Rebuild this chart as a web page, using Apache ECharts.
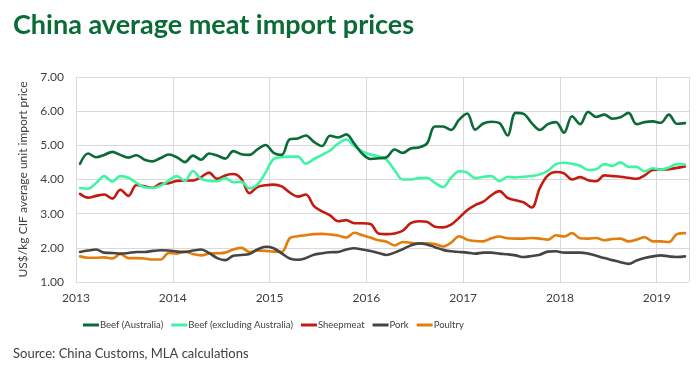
<!DOCTYPE html>
<html><head><meta charset="utf-8">
<script src="https://cdn.jsdelivr.net/npm/echarts@6/dist/echarts.min.js"></script>
<style>html,body{margin:0;padding:0;background:#fff}#c{width:700px;height:373px}</style>
</head><body><div id="c"></div>
<script>
var startYear = 2013;
var yearTicks = ['2013','2014','2015','2016','2017','2018','2019'];
var seriesNames = ['Beef (Australia)','Beef (excluding Australia)','Sheepmeat','Pork','Poultry'];
// monthly values, Jan 2013 .. Apr 2019
var beefAustralia = [4.46,4.76,4.65,4.72,4.81,4.72,4.64,4.71,4.58,4.53,4.63,4.73,
4.65,4.51,4.70,4.58,4.76,4.70,4.61,4.83,4.74,4.72,4.88,5.01,
4.78,4.72,5.18,5.20,5.29,5.10,4.98,5.28,5.23,5.32,5.05,4.75,
4.60,4.62,4.65,4.88,4.78,4.91,4.94,5.05,5.55,5.55,5.45,5.75,
5.93,5.46,5.64,5.69,5.65,5.29,5.95,5.92,5.65,5.45,5.62,5.68,
5.37,5.85,5.62,5.98,5.83,5.90,5.78,5.82,5.95,5.62,5.68,5.70,
5.66,5.90,5.63,5.65];
var beefExAustralia = [3.75,3.73,3.90,4.10,3.94,4.10,4.05,3.90,3.77,3.75,3.82,3.97,
4.10,3.96,4.25,4.02,3.96,3.95,4.04,3.92,3.93,3.74,3.85,4.20,
4.60,4.65,4.67,4.67,4.46,4.60,4.72,4.85,5.05,5.17,4.98,4.82,
4.73,4.68,4.58,4.27,4.00,4.00,4.04,4.05,3.90,3.78,4.05,4.24,
4.20,4.04,4.08,4.10,3.95,4.08,4.06,4.08,4.10,4.15,4.25,4.45,
4.49,4.46,4.40,4.28,4.30,4.45,4.40,4.50,4.37,4.37,4.24,4.33,
4.29,4.35,4.45,4.44];
var sheepmeat = [3.58,3.47,3.52,3.56,3.44,3.70,3.52,3.84,3.80,3.76,3.88,3.89,
3.96,3.97,3.97,4.07,4.20,4.02,4.12,4.16,4.02,3.60,3.78,3.83,
3.85,3.80,3.62,3.50,3.56,3.22,3.07,2.95,2.78,2.81,2.72,2.72,
2.70,2.42,2.40,2.42,2.50,2.72,2.78,2.76,2.62,2.60,2.68,2.88,
3.10,3.25,3.35,3.54,3.66,3.46,3.39,3.33,3.18,3.75,4.12,4.22,
4.18,4.00,4.07,3.98,3.95,4.12,4.10,4.08,4.05,4.02,4.12,4.28,
4.29,4.30,4.34,4.38];
var pork = [1.88,1.92,1.95,1.86,1.85,1.83,1.85,1.88,1.88,1.91,1.93,1.92,
1.89,1.88,1.92,1.95,1.85,1.70,1.64,1.77,1.79,1.82,1.95,2.03,
1.99,1.84,1.69,1.65,1.70,1.80,1.84,1.87,1.88,1.95,1.99,1.95,
1.91,1.85,1.79,1.86,1.96,2.07,2.13,2.10,2.02,1.94,1.90,1.88,
1.86,1.83,1.86,1.86,1.83,1.81,1.78,1.73,1.76,1.80,1.89,1.90,
1.86,1.86,1.86,1.83,1.77,1.70,1.64,1.58,1.53,1.63,1.70,1.75,
1.78,1.75,1.73,1.75];
var poultry = [1.75,1.71,1.71,1.72,1.69,1.82,1.70,1.70,1.69,1.66,1.66,1.85,
1.83,1.89,1.82,1.78,1.83,1.84,1.86,1.95,2.00,1.88,1.92,1.91,
1.89,1.88,2.28,2.34,2.37,2.40,2.41,2.39,2.36,2.30,2.44,2.37,
2.30,2.22,2.18,2.07,2.17,2.15,2.12,2.13,2.11,2.04,2.15,2.34,
2.24,2.20,2.19,2.28,2.33,2.28,2.27,2.27,2.29,2.27,2.24,2.37,
2.33,2.43,2.28,2.27,2.29,2.22,2.26,2.27,2.19,2.24,2.31,2.19,
2.19,2.17,2.40,2.43];
var colors = ['#0A6B36','#3DF5A3','#C41A10','#454545','#E37D0C'];

function pairs(arr){ return arr.map(function(v,i){ return [i+0.5, v]; }); }
var allData = [beefAustralia, beefExAustralia, sheepmeat, pork, poultry];

var chart = echarts.init(document.getElementById('c'), null, {renderer:'canvas'});
var FONT = 'Lato';
chart.setOption({
  animation:false,
  color: colors,
  title:[
    {text:'China average meat import prices', left:13, top:12, padding:0,
     textStyle:{fontFamily:FONT, fontWeight:'bold', fontSize:27, color:'#0A6B36'}},
    {text:'Source: China Customs, MLA calculations', left:13, top:347, padding:0,
     textStyle:{fontFamily:FONT, fontWeight:'normal', fontSize:13, color:'#404040'}}
  ],
  legend:{
    left:78, top:315, itemWidth:16, itemHeight:3, itemGap:8, icon:'rect',
    textStyle:{fontFamily:FONT, fontSize:9.5, color:'#404040', padding:[0,0,0,-4]},
    data: seriesNames
  },
  grid:{left:76, right:11, top:77, bottom:91, containLabel:false},
  xAxis:{
    type:'value', min:0, max:76, interval:12,
    axisLine:{show:false}, axisTick:{show:false},
    splitLine:{show:true, lineStyle:{color:'#D9D9D9', width:1}},
    axisLabel:{fontFamily:FONT, fontSize:12, color:'#404040', margin:10,
      formatter:function(v){ var k=Math.round(v/12); return (v%12===0 && k<yearTicks.length)? yearTicks[k] : ''; }}
  },
  yAxis:{
    type:'value', min:1, max:7, interval:1,
    name:'US$/kg CIF average unit import price', nameLocation:'middle', nameGap:38,
    nameTextStyle:{fontFamily:FONT, fontSize:12, color:'#404040'},
    axisLine:{show:false}, axisTick:{show:false},
    splitLine:{show:true, lineStyle:{color:'#D9D9D9', width:1}},
    axisLabel:{fontFamily:FONT, fontSize:12, color:'#404040', margin:12,
      formatter:function(v){ return v.toFixed(2); }}
  },
  series: seriesNames.map(function(n,k){
    return {name:n, type:'line', data:pairs(allData[k]), smooth:0.35, showSymbol:false,
      lineStyle:{width:2.6, color:colors[k], cap:'round'}, z: 10-k};
  })
});
</script></body></html>
